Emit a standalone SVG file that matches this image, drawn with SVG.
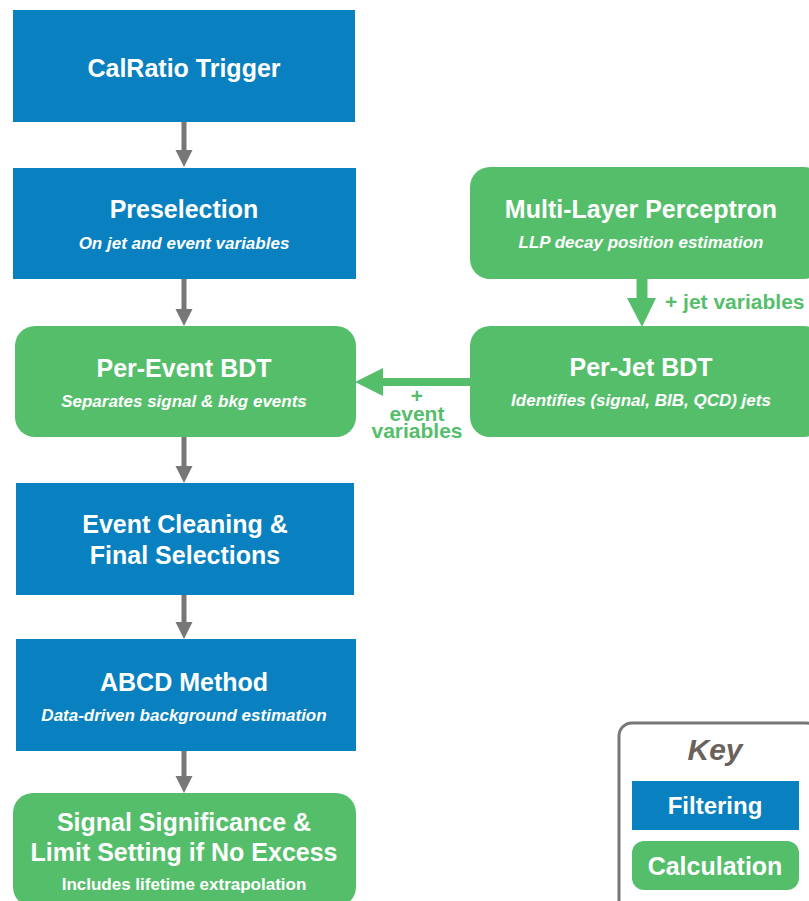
<svg xmlns="http://www.w3.org/2000/svg" width="809" height="901" viewBox="0 0 809 901">
<defs>
<style>
.blue{fill:#0981C0}
.green{fill:#55BE6B}
.t{font-family:"Liberation Sans",Arial,sans-serif;font-weight:bold;fill:#fff;text-anchor:middle}
.title{font-size:25px}
.sub{font-size:17px;font-style:italic}
.lbl{font-family:"Liberation Sans",Arial,sans-serif;font-weight:bold;fill:#55BE6B;font-size:21px}
.garr{stroke:#777;stroke-width:5;fill:none}
.ghead{fill:#777}
</style>
</defs>
<rect width="809" height="901" fill="#fff"/>

<g id="connectors">
  <line class="garr" x1="184" y1="122" x2="184" y2="152"/>
  <polygon class="ghead" points="175.5,150 192.5,150 184,167"/>
  <line class="garr" x1="184" y1="279" x2="184" y2="311"/>
  <polygon class="ghead" points="175.5,309 192.5,309 184,326"/>
  <line class="garr" x1="184" y1="437" x2="184" y2="468"/>
  <polygon class="ghead" points="175.5,466 192.5,466 184,483"/>
  <line class="garr" x1="184" y1="595" x2="184" y2="624"/>
  <polygon class="ghead" points="175.5,622 192.5,622 184,639"/>
  <line class="garr" x1="184" y1="751" x2="184" y2="778"/>
  <polygon class="ghead" points="175.5,776 192.5,776 184,793"/>
  <line x1="642" y1="279" x2="642" y2="300" stroke="#55BE6B" stroke-width="11"/>
  <polygon points="627,298 656,298 642,327" fill="#55BE6B"/>
  <line x1="471" y1="382" x2="380" y2="382" stroke="#55BE6B" stroke-width="8"/>
  <polygon points="383,368 383,396 355,382" fill="#55BE6B"/>
  <text class="lbl" x="665" y="309">+ jet variables</text>
  <text class="lbl" text-anchor="middle"><tspan x="417" y="403">+</tspan><tspan x="417" y="421">event</tspan><tspan x="417" y="438">variables</tspan></text>
</g>

<g id="calratio">
  <rect class="blue" x="13" y="10" width="342" height="112"/>
  <text class="t title" x="184" y="77">CalRatio Trigger</text>
</g>

<g id="preselection">
  <rect class="blue" x="13" y="168" width="343" height="111"/>
  <text class="t title" x="184" y="218">Preselection</text>
  <text class="t sub" x="184" y="249">On jet and event variables</text>
</g>

<g id="mlp">
  <rect class="green" x="470" y="167" width="354" height="112" rx="20"/>
  <text class="t title" x="641" y="218">Multi-Layer Perceptron</text>
  <text class="t sub" x="641" y="248">LLP decay position estimation</text>
</g>

<g id="perevent">
  <rect class="green" x="15" y="326" width="341" height="111" rx="20"/>
  <text class="t title" x="184" y="377">Per-Event BDT</text>
  <text class="t sub" x="184" y="407">Separates signal &amp; bkg events</text>
</g>

<g id="perjet">
  <rect class="green" x="470" y="326" width="354" height="111" rx="20"/>
  <text class="t title" x="641" y="376">Per-Jet BDT</text>
  <text class="t sub" x="641" y="406">Identifies (signal, BIB, QCD) jets</text>
</g>

<g id="cleaning">
  <rect class="blue" x="16" y="483" width="338" height="112"/>
  <text class="t title" x="185" y="533">Event Cleaning &amp;</text>
  <text class="t title" x="185" y="564">Final Selections</text>
</g>

<g id="abcd">
  <rect class="blue" x="16" y="639" width="340" height="112"/>
  <text class="t title" x="184" y="691">ABCD Method</text>
  <text class="t sub" x="184" y="721">Data-driven background estimation</text>
</g>

<g id="signal">
  <rect class="green" x="13" y="793" width="343" height="114" rx="20"/>
  <text class="t title" x="184" y="831">Signal Significance &amp;</text>
  <text class="t title" x="184" y="861">Limit Setting if No Excess</text>
  <text class="t" x="184" y="890" font-size="17">Includes lifetime extrapolation</text>
</g>

<g id="key">
  <rect x="619" y="723" width="200" height="200" rx="13" fill="#fff" stroke="#777" stroke-width="3"/>
  <text x="715" y="760" font-family="'Liberation Sans',Arial,sans-serif" font-weight="bold" font-style="italic" font-size="30" fill="#6B625B" text-anchor="middle">Key</text>
  <rect class="blue" x="632" y="781" width="167" height="49"/>
  <text class="t" x="715" y="814" font-size="24">Filtering</text>
  <rect class="green" x="632" y="841" width="167" height="49" rx="12"/>
  <text class="t" x="715" y="875" font-size="25">Calculation</text>
</g>
</svg>
